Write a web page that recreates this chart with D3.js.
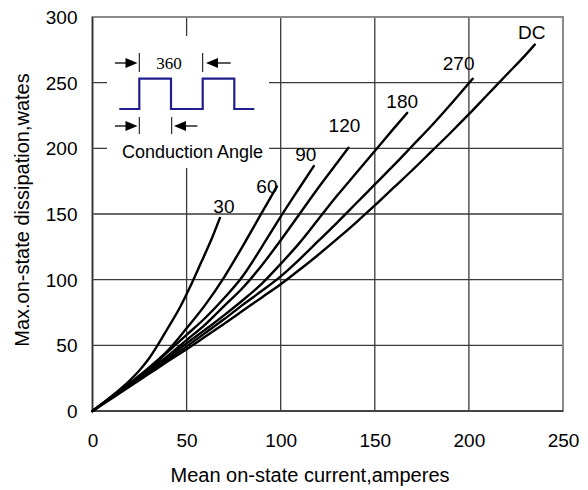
<!DOCTYPE html>
<html>
<head>
<meta charset="utf-8">
<script src="https://cdn.jsdelivr.net/npm/d3@7/dist/d3.min.js"></script>
<style>
  html, body { margin: 0; padding: 0; background: #fff; }
  svg { display: block; font-family: "Liberation Sans", Arial, sans-serif; }
</style>
</head>
<body>
<svg id="chart" width="588" height="490"></svg>
<script>
// ---- data ----
const curveLabels = ["30", "60", "90", "120", "180", "270", "DC"];

const current30 = [0, 10, 15, 20, 25, 30, 35, 40, 46.5, 52, 58, 61, 64, 67.7];
const power30   = [0, 11, 17, 23.5, 31, 40, 51, 63, 79, 95, 114, 123.5, 133.5, 147];

const current60 = [0, 10, 20, 30, 40, 50, 60, 70, 80, 90, 98];
const power60   = [0, 10.6, 21.5, 33, 46, 63, 81, 102, 126, 151, 171];

const current90 = [0, 10, 20, 30, 40, 50, 60, 70, 80, 90, 100, 110, 117.6];
const power90   = [0, 10.4, 21, 32, 45, 58, 71, 86, 103, 125, 148, 170, 186.5];

const current120 = [0, 10, 20, 30, 40, 50, 60, 70, 80, 90, 100, 110, 120, 130, 136];
const power120   = [0, 10.2, 20.7, 31, 42, 54, 66, 80, 94, 111, 130, 150, 170, 189, 200.5];

const current180 = [0, 10, 20, 30, 40, 50, 60, 70, 80, 90, 100, 110, 120, 130, 140, 150, 160, 167.2];
const power180   = [0, 10, 20.2, 30.5, 41, 51.5, 62, 73, 84.5, 97, 112, 128, 146, 164, 181, 198, 215, 227];

const current270 = [0, 10, 20, 30, 40, 50, 60, 70, 80, 90, 100, 110, 120, 130, 140, 150, 160, 170, 180, 190, 202];
const power270   = [0, 9.8, 19.6, 29.4, 39.3, 49.2, 59.5, 70, 81, 91.5, 102.5, 115.5, 129.5, 143.5, 158, 172.5, 187, 202, 217, 233, 253];

const currentDC = [0, 10, 20, 30, 40, 50, 60, 70, 80, 90, 100, 110, 120, 130, 140, 150, 160, 170, 180, 190, 200, 210, 220, 230, 235];
const powerDC   = [0, 9.4, 18.8, 28.3, 37.8, 47, 56.7, 66.5, 76.5, 86.5, 96.5, 107.5, 119, 131, 143.5, 156.5, 170, 183.5, 197.5, 211.5, 226, 241, 256, 271, 279];

const xTicks = [0, 50, 100, 150, 200, 250];
const yTicks = [0, 50, 100, 150, 200, 250, 300];
const xTitle = "Mean on-state current,amperes";
const yTitle = "Max.on-state dissipation,wates";
const insetPeriodLabel = "360";
const insetTitle = "Conduction Angle";

// ---- layout ----
const svg = d3.select("#chart");
const L = 92.5, R = 563, T = 17, B = 411;
const x = d3.scaleLinear().domain([0, 250]).range([L, R]);
const y = d3.scaleLinear().domain([0, 300]).range([B, T]);

const currents = [current30, current60, current90, current120, current180, current270, currentDC];
const powers = [power30, power60, power90, power120, power180, power270, powerDC];
const series = curveLabels.map((lab, i) => ({
  label: lab,
  pts: currents[i].map((c, j) => [c, powers[i][j]])
}));

// label offsets (pixels) relative to curve end
const labelOffsets = { "30": [4, -12], "60": [-10, 0], "90": [-8, -12], "120": [-4, -22],
                       "180": [-5, -12], "270": [-14, -15], "DC": [-3, -12] };

// gridlines
const grid = svg.append("g");
grid.selectAll("line.v").data(xTicks.slice(1, -1)).join("line")
  .attr("x1", d => x(d)).attr("x2", d => x(d)).attr("y1", T).attr("y2", B)
  .attr("stroke", "#3a3a3a").attr("stroke-width", 1.3);
grid.selectAll("line.h").data(yTicks.slice(1, -1)).join("line")
  .attr("x1", L).attr("x2", R).attr("y1", d => y(d)).attr("y2", d => y(d))
  .attr("stroke", "#3a3a3a").attr("stroke-width", 1.3);

// frame
svg.append("rect").attr("x", L).attr("y", T).attr("width", R - L).attr("height", B - T)
  .attr("fill", "none").attr("stroke", "#8a8a8a").attr("stroke-width", 2);
svg.append("line").attr("x1", L).attr("x2", L).attr("y1", T).attr("y2", B)
  .attr("stroke", "#333").attr("stroke-width", 1.5);
svg.append("line").attr("x1", L).attr("x2", R).attr("y1", B).attr("y2", B)
  .attr("stroke", "#444").attr("stroke-width", 2);

// axes tick labels
const xAxis = d3.axisBottom(x).tickValues(xTicks).tickSize(0).tickPadding(0);
const gx = svg.append("g").attr("transform", `translate(0,${B})`).call(xAxis);
gx.select(".domain").remove();
gx.selectAll("text").attr("y", 36).attr("dy", 0).attr("font-size", 19)
  .attr("font-family", "Liberation Sans, Arial, sans-serif").attr("fill", "#000");

const yAxis = d3.axisLeft(y).tickValues(yTicks).tickSize(0).tickPadding(0);
const gy = svg.append("g").attr("transform", `translate(${L},0)`).call(yAxis);
gy.select(".domain").remove();
gy.selectAll("text").attr("x", -15).attr("dy", "0.35em").attr("font-size", 19)
  .attr("font-family", "Liberation Sans, Arial, sans-serif").attr("fill", "#000");

// axis titles
svg.append("text").attr("x", 310).attr("y", 482).attr("text-anchor", "middle")
  .attr("font-size", 20).text(xTitle);
svg.append("text").attr("transform", `translate(29,210) rotate(-90)`)
  .attr("text-anchor", "middle").attr("font-size", 20).text(yTitle);

// inset diagram (white box over grid)
const inset = svg.append("g").attr("transform", "translate(107,36)");
inset.append("rect").attr("x", 0).attr("y", 0).attr("width", 162).attr("height", 132).attr("fill", "#fff");
const wave = [[12.3, 73], [32.3, 73], [32.3, 42.7], [64, 42.7], [64, 73], [95.7, 73], [95.7, 42.7], [127.3, 42.7], [127.3, 73], [147.3, 73]];
inset.append("path").attr("d", d3.line()(wave)).attr("fill", "none")
  .attr("stroke", "#1f1f8f").attr("stroke-width", 2.2);
// ticks
[[32.3, 17, 36], [95.7, 17, 36], [32.3, 81, 98], [64.7, 81, 98]].forEach(t => {
  inset.append("line").attr("x1", t[0]).attr("x2", t[0]).attr("y1", t[1]).attr("y2", t[2])
    .attr("stroke", "#000").attr("stroke-width", 1);
});
function arrow(x0, x1, yy) {
  const dir = Math.sign(x1 - x0);
  inset.append("line").attr("x1", x0).attr("x2", x1 - dir * 10).attr("y1", yy).attr("y2", yy)
    .attr("stroke", "#000").attr("stroke-width", 1.3);
  inset.append("path").attr("d", `M${x1},${yy} L${x1 - dir * 12},${yy - 5} L${x1 - dir * 12},${yy + 5} Z`)
    .attr("fill", "#000");
}
arrow(8, 30.5, 27);
arrow(123.7, 99, 27);
arrow(8, 30.5, 90);
arrow(90.3, 67, 90);
inset.append("text").attr("x", 62).attr("y", 33).attr("text-anchor", "middle")
  .attr("font-family", "Liberation Serif, Times New Roman, serif").attr("font-size", 17).text(insetPeriodLabel);
inset.append("text").attr("x", 85.5).attr("y", 122).attr("text-anchor", "middle")
  .attr("font-size", 18).text(insetTitle);

// curves
const line = d3.line().x(d => x(d[0])).y(d => y(d[1])).curve(d3.curveMonotoneX);
svg.append("g").selectAll("path").data(series).join("path")
  .attr("d", d => line(d.pts)).attr("fill", "none").attr("stroke", "#000")
  .attr("stroke-width", 2.4).attr("stroke-linecap", "round");

// curve labels
svg.append("g").selectAll("text").data(series).join("text")
  .attr("x", d => x(d.pts[d.pts.length - 1][0]) + labelOffsets[d.label][0])
  .attr("y", d => y(d.pts[d.pts.length - 1][1]) + labelOffsets[d.label][1])
  .attr("dy", "0.35em").attr("text-anchor", "middle").attr("font-size", 19)
  .text(d => d.label);
</script>
</body>
</html>
